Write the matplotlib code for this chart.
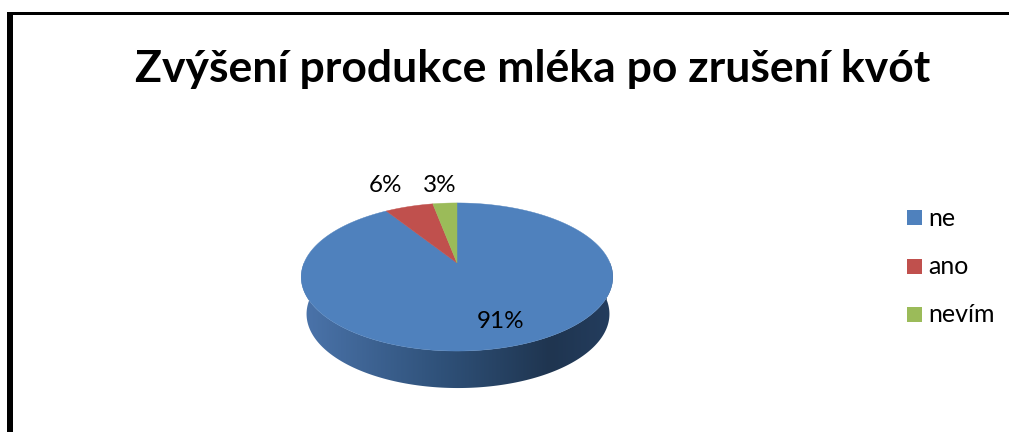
import numpy as np
import matplotlib
matplotlib.use('Agg')
import matplotlib.pyplot as plt
from matplotlib.colors import LinearSegmentedColormap
from matplotlib.patches import Polygon, Rectangle

categories = ['ne', 'ano', 'nevím']
values = [91, 6, 3]
labels = ['91%', '6%', '3%']
colors = ['#4F81BD', '#C0504D', '#9BBB59']
title = 'Zvýšení produkce mléka po zrušení kvót'

# perspective of the pie, in pixels
APEX = (457, 263)
SX, SY, K = 153, 71.4, 0.189
DEPTH = 37


def project(theta):
    # theta clockwise from the top of the pie
    x, y = np.sin(theta), np.cos(theta)
    w = 1 + K * y
    return APEX[0] + SX * x / w, APEX[1] - SY * y / w


plt.rcParams['font.family'] = ['Lato', 'DejaVu Sans']

fig = plt.figure(figsize=(10.09, 4.32), dpi=100)
ax = fig.add_axes([0, 0, 1, 1])

# frame, open to the right and the bottom
ax.add_patch(Rectangle((7, 12), 1002, 3.4, fc='black', ec='none'))
ax.add_patch(Rectangle((7, 12), 5.6, 420, fc='black', ec='none'))

# side wall with the dark gradient
t = np.linspace(np.pi / 2, 3 * np.pi / 2, 200)
tx, ty = project(t)
sx = 458 + (tx - 457) * 0.972
sy = ty + DEPTH
wall = np.concatenate([np.column_stack([tx, ty]), np.column_stack([sx, sy])[::-1]])
cmap = LinearSegmentedColormap.from_list('wall', [(0, '#4B74AB'), (0.45, '#2F5179'), (0.8, '#1F3550'), (1, '#243D5E')])
img = ax.imshow(np.linspace(0, 1, 256)[None, :], extent=(301, 613, 400, 260), cmap=cmap, aspect='auto', zorder=2)
clip = Polygon(wall, closed=True, transform=ax.transData, fc='none', ec='none')
ax.add_patch(clip)
img.set_clip_path(clip)

# top face, clockwise from 12 o'clock
fractions = np.array(values) / sum(values)
edges = np.concatenate([[0], np.cumsum(fractions)]) * 2 * np.pi
for i, color in enumerate(colors):
    th = np.linspace(edges[i], edges[i + 1], 200)
    px, py = project(th)
    pts = np.column_stack([np.r_[APEX[0], px], np.r_[APEX[1], py]])
    ax.add_patch(Polygon(pts, closed=True, fc=color, ec=color, lw=0.3, zorder=3))

# data labels
label_pos = [(501, 328), (386, 192), (440, 192)]
for txt, pos in zip(labels, label_pos):
    ax.text(pos[0], pos[1], txt, ha='center', va='baseline', fontsize=17.5, color='black', zorder=4)

ax.text(532.5, 82, title, ha='center', va='baseline', fontsize=32, fontweight='bold', color='black')

# legend
legend_y = [217.5, 266.5, 314.5]
for name, color, y in zip(categories, colors, legend_y):
    ax.add_patch(Rectangle((907, y - 7.5), 15, 15, fc=color, ec='none'))
    ax.text(928, y + 8, name, ha='left', va='baseline', fontsize=18, color='black')

ax.set_xlim(0, 1009)
ax.set_ylim(432, 0)
ax.axis('off')
fig.savefig('out.png', dpi=100)
